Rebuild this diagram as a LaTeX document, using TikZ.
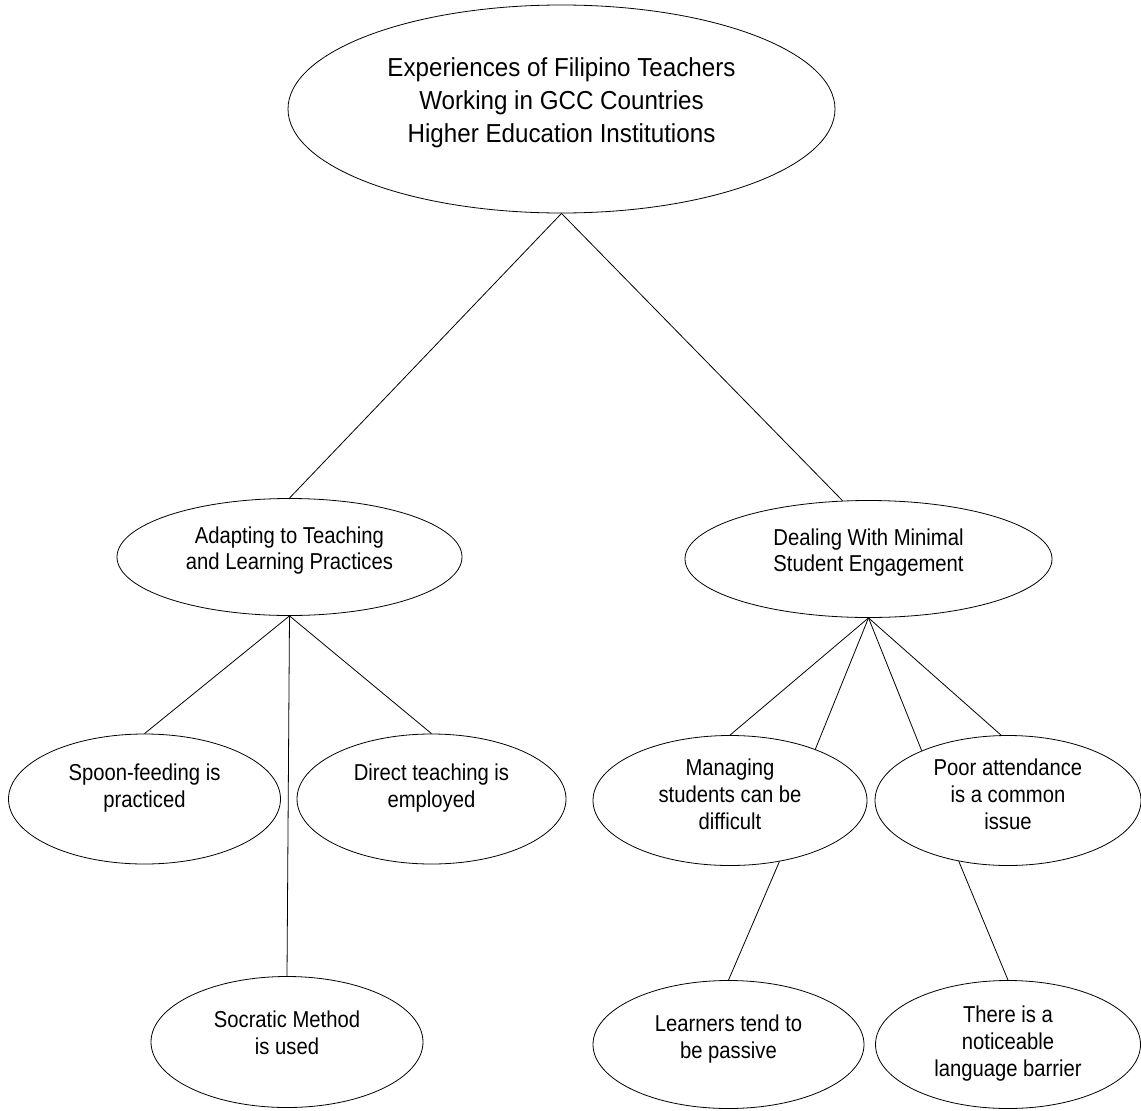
\documentclass[tikz,border=0pt]{standalone}
\usepackage{fontspec}
\setmainfont{Liberation Sans}
\newfontfamily\tallfont[FakeStretch=0.93]{Liberation Sans}
\newfontfamily\narrowfont[FakeStretch=0.88]{Liberation Sans}
\usetikzlibrary{positioning,shapes.geometric}
% raise the lines inside an ellipse without moving the ellipse
\newcommand{\lifted}[2]{\raisebox{#1}[\height][\depth]{\begin{tabular}{@{}c@{}}#2\end{tabular}}}

\begin{document}
\begin{tikzpicture}[x=1pt,y=-1pt,line width=0.8pt]
		\tikzstyle{theme}=[ellipse, draw=black, inner sep=0pt, minimum width=547pt, minimum height=208pt, font=\tallfont\fontsize{26}{33}\selectfont]
		\tikzstyle{subtheme}=[ellipse, draw=black, inner sep=0pt, minimum height=117pt, font=\narrowfont\fontsize{23}{26}\selectfont]
		\tikzstyle{code}=[ellipse, draw=black, inner sep=0pt, minimum width=272pt, minimum height=130pt, font=\narrowfont\fontsize{23}{27}\selectfont]

		\useasboundingbox (0,0) rectangle (1141,1111);

		\node [theme] (root) at (561.5,109) {\lifted{6pt}{Experiences of Filipino Teachers\\Working in GCC Countries\\Higher Education Institutions}};
		\node [subtheme,minimum width=345pt] (adapt) [below of=root, node distance=448pt, xshift=-272pt] {\lifted{6pt}{Adapting to Teaching\\and Learning Practices}};
		\node [subtheme,minimum width=367pt] (deal) [right of=adapt, node distance=579pt, yshift=-2pt] {\lifted{6pt}{Dealing With Minimal\\Student Engagement}};

		% left branch
		\node [code] (spoon) [below of=adapt, node distance=242pt, xshift=-145pt] {\lifted{10pt}{Spoon-feeding is\\practiced}};
		\node [code,minimum width=269pt] (direct) [below of=adapt, node distance=242pt, xshift=142pt] {\lifted{10pt}{Direct teaching is\\employed}};
		\node [code,minimum height=131pt] (socratic) [below of=adapt, node distance=485pt, xshift=-2.5pt] {\lifted{6pt}{Socratic Method\\is used}};

		% right branch
		\node [code,minimum width=274pt] (manage) [below of=deal, node distance=241.5pt, xshift=-138.5pt] {\lifted{3pt}{Managing\\students can be\\difficult}};
		\node [code,minimum width=266pt] (attend) [below of=deal, node distance=241.5pt, xshift=139.5pt] {\lifted{3pt}{Poor attendance\\is a common\\issue}};
		\node [code,minimum width=271pt,minimum height=128pt] (passive) [below of=manage, node distance=244pt, xshift=-1.5pt] {\lifted{5pt}{Learners tend to\\be passive}};
		\node [code,minimum width=265pt,minimum height=128pt] (barrier) [below of=attend, node distance=244pt] {\lifted{0pt}{There is a\\noticeable\\language barrier}};

		\draw (root.south) -- (adapt.north);
		\draw (root.south) -- (deal.114);
		\draw (adapt.south) -- (spoon.north);
		\draw (adapt.south) -- (socratic.north);
		\draw (adapt.south) -- (direct.north);
		\draw (deal.south) -- (manage.north);
		\draw (deal.south) -- (manage.31);
		\draw (deal.south) -- (attend.150);
		\draw (deal.south) -- (attend.96);
		\draw (manage.-51) -- (passive.north);
		\draw (attend.-129) -- (barrier.north);
	\end{tikzpicture}
\end{document}
